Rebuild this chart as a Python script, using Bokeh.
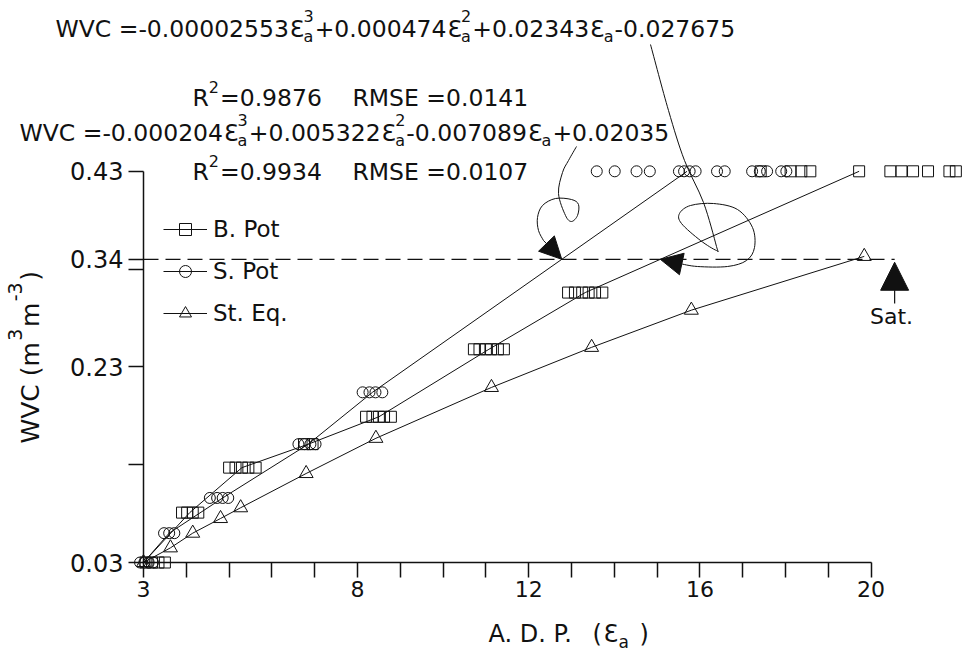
import math
import numpy as np
from bokeh.plotting import figure
from bokeh.models import Range1d, FixedTicker, Label, Legend, LegendItem, Arrow, NormalHead
from bokeh.embed import file_html
from bokeh.resources import INLINE

# ---------------- data ----------------
X_TICKS = [3, 4, 5, 6, 7, 8, 9, 10, 11, 12, 13, 14, 15, 16, 17, 18, 19, 20]
X_TICK_LABELS = ["3", "", "", "", "", "8", "", "", "", "12", "", "", "", "16", "", "", "", "20"]
Y_TICKS = [0.03, 0.13, 0.23, 0.33, 0.34, 0.43]
Y_TICK_LABELS = ["0.03", "", "0.23", "", "0.34", "0.43"]

# B. Pot readings (squares)
BPOT_X = [3.05, 3.2, 3.35, 3.5,
          3.9, 4.02, 4.15, 4.28,
          5.0, 5.15, 5.3, 5.45, 5.62,
          6.75, 6.95,
          8.2, 8.35, 8.5, 8.62, 8.78,
          10.72, 10.85, 11.0, 11.12, 11.28, 11.42,
          12.92, 13.08, 13.25, 13.4, 13.55, 13.72,
          17.42, 18.12, 18.37, 18.58, 19.72, 20.45, 20.71, 20.98, 21.33, 21.83, 21.98]
BPOT_Y = [0.03, 0.03, 0.03, 0.03,
          0.081, 0.081, 0.081, 0.081,
          0.127, 0.127, 0.127, 0.127, 0.127,
          0.151, 0.151,
          0.179, 0.179, 0.179, 0.179, 0.179,
          0.248, 0.248, 0.248, 0.248, 0.248, 0.248,
          0.306, 0.306, 0.306, 0.306, 0.306, 0.306,
          0.43, 0.43, 0.43, 0.43, 0.43, 0.43, 0.43, 0.43, 0.43, 0.43, 0.43]
BPOT_LINE_X = [3.0, 4.08, 5.3, 6.85, 8.5, 11.07, 13.32, 19.72]
BPOT_LINE_Y = [0.03, 0.081, 0.127, 0.151, 0.179, 0.248, 0.306, 0.43]

# S. Pot readings (circles)
SPOT_X = [2.92, 3.02, 3.12, 3.22,
          3.48, 3.6, 3.72,
          4.55, 4.72, 4.85, 4.98,
          6.62, 6.76, 6.9, 7.02,
          8.12, 8.28, 8.42, 8.58,
          13.59, 14.01, 14.52, 14.83, 15.51, 15.63, 15.76, 15.9, 16.4, 16.58,
          17.22, 17.4, 17.57, 17.9, 18.02]
SPOT_Y = [0.03, 0.03, 0.03, 0.03,
          0.06, 0.06, 0.06,
          0.096, 0.096, 0.096, 0.096,
          0.151, 0.151, 0.151, 0.151,
          0.204, 0.204, 0.204, 0.204,
          0.43, 0.43, 0.43, 0.43, 0.43, 0.43, 0.43, 0.43, 0.43, 0.43,
          0.43, 0.43, 0.43, 0.43, 0.43]
SPOT_LINE_X = [3.0, 3.6, 4.85, 6.85, 8.35, 15.7]
SPOT_LINE_Y = [0.03, 0.06, 0.096, 0.151, 0.204, 0.43]

# St. Eq. (triangles)
STEQ_X = [3.0, 3.63, 4.15, 4.8, 5.27, 6.8, 8.43, 11.13, 13.47, 15.8, 19.84]
STEQ_Y = [0.03, 0.045, 0.060, 0.075, 0.086, 0.121, 0.157, 0.209, 0.250, 0.288, 0.343]

SAT_WVC = 0.34
SAT_ADP = 20.55

EQ1_COEFS = ["-0.00002553", "+0.000474", "+0.02343", "-0.027675"]
EQ1_R2, EQ1_RMSE = "0.9876", "0.0141"
EQ2_COEFS = ["-0.000204", "+0.005322", "-0.007089", "+0.02035"]
EQ2_R2, EQ2_RMSE = "0.9934", "0.0107"

# ---------------- layout ----------------
W, H = 962, 652
AX_X_PX, AX_Y_PX = 143, 562          # where x=3 and y=0.03 sit on the canvas
PX_PER_X, PX_PER_Y = 42.8, 978.0
X_ORIGIN, Y_ORIGIN = X_TICKS[0], Y_TICKS[0]

INK = "#111111"
FONT = "DejaVu Sans"
MAIN = 23.5
SMALL = 16
BASE_FIX = 9  # labels render a little below their alphabetic anchor


def px2x(px):
    return X_ORIGIN + (px - AX_X_PX) / PX_PER_X


def py2y(py):
    return Y_ORIGIN + (AX_Y_PX - py) / PX_PER_Y


ADV = {str(d): 0.636 for d in range(10)}
ADV.update({".": 0.318, " ": 0.318, "+": 0.838, "=": 0.838, "-": 0.361, "W": 0.989,
            "V": 0.684, "C": 0.698, "R": 0.695, "M": 0.863, "S": 0.635, "E": 0.632,
            "Ɛ": 0.58, "a": 0.613, "A": 0.684, "D": 0.77, "P": 0.603, "(": 0.39, ")": 0.39,
            "m": 0.974})


def tw(s, size):
    return sum(ADV.get(c, 0.62) for c in s) * size


# the frame covers the whole canvas; the axes are pinned at x=3 / y=0.03
p = figure(width=W, height=H, x_range=Range1d(px2x(0), px2x(W)), y_range=Range1d(py2y(H), py2y(0)),
           output_backend="svg", toolbar_location=None,
           min_border_left=0, min_border_right=0, min_border_top=0, min_border_bottom=0)
p.outline_line_color = None
p.xgrid.visible = False
p.ygrid.visible = False
p.background_fill_color = "white"

for ax in (p.xaxis[0], p.yaxis[0]):
    ax.axis_line_color = INK
    ax.axis_line_width = 1.5
    ax.major_tick_line_color = INK
    ax.major_tick_line_width = 1.5
    ax.major_tick_out = 15
    ax.major_tick_in = 0
    ax.minor_tick_out = 0
    ax.minor_tick_in = 0
    ax.major_label_text_font = FONT
    ax.major_label_text_color = INK

p.xaxis.fixed_location = Y_ORIGIN
p.xaxis.ticker = FixedTicker(ticks=X_TICKS)
p.xaxis.major_label_overrides = dict(zip(X_TICKS, X_TICK_LABELS))
p.xaxis.bounds = (X_TICKS[0], X_TICKS[-1])
p.xaxis.major_label_text_font_size = "22px"
p.xaxis.major_label_standoff = 3

p.yaxis.fixed_location = X_ORIGIN
p.yaxis.ticker = FixedTicker(ticks=Y_TICKS)
p.yaxis.major_label_overrides = dict(zip(Y_TICKS, Y_TICK_LABELS))
p.yaxis.bounds = (Y_TICKS[0], Y_TICKS[-1])
p.yaxis.major_label_text_font_size = "24px"
p.yaxis.major_label_standoff = 5

# ---------------- series ----------------
b_line = p.line(BPOT_LINE_X, BPOT_LINE_Y, line_color=INK, line_width=1)
b_pts = p.scatter(BPOT_X, BPOT_Y, marker="square", size=11, fill_alpha=0, line_color=INK, line_width=1)
s_line = p.line(SPOT_LINE_X, SPOT_LINE_Y, line_color=INK, line_width=1)
s_pts = p.scatter(SPOT_X, SPOT_Y, marker="circle", size=11, fill_alpha=0, line_color=INK, line_width=1)
t_line = p.line(STEQ_X, STEQ_Y, line_color=INK, line_width=1)
t_pts = p.scatter(STEQ_X, STEQ_Y, marker="triangle", size=14, fill_alpha=0, line_color=INK, line_width=1)

# saturation level
p.line([X_ORIGIN, SAT_ADP], [SAT_WVC, SAT_WVC], line_color=INK, line_width=1.2, line_dash="15 7")

legend = Legend(items=[LegendItem(label="B. Pot", renderers=[b_line, b_pts]),
                       LegendItem(label="S. Pot", renderers=[s_line, s_pts]),
                       LegendItem(label="St. Eq.", renderers=[t_line, t_pts])],
                location=(163, H - 328), orientation="vertical", padding=0, spacing=12, margin=0,
                glyph_width=44, glyph_height=30, label_height=30, label_standoff=6,
                label_text_font=FONT, label_text_font_size="23px", label_text_color=INK,
                border_line_color=None, background_fill_alpha=0)
p.add_layout(legend)


# ---------------- text annotations (screen units; frame == canvas) ----------------
def put(text, px, py, size, align="left"):
    p.add_layout(Label(x=px, y=H - (py - BASE_FIX), x_units="screen", y_units="screen", text=text,
                       text_font=FONT, text_font_size=f"{size}px", text_align=align,
                       text_baseline="alphabetic", text_color=INK))


def put_up(text, base_x, py, size):
    """Text reading bottom-to-top, starting at canvas row py, baseline at column base_x."""
    p.add_layout(Label(x=base_x - BASE_FIX, y=H - py, x_units="screen", y_units="screen", text=text,
                       text_font=FONT, text_font_size=f"{size}px", text_align="left",
                       text_baseline="alphabetic", text_color=INK, angle=math.pi / 2))


SUP_RISE, SUB_DROP = 13, 8


def equation(coefs, x, base, gap):
    powers = ["3", "2", ""]
    text = "WVC =" + coefs[0]
    for i in range(3):
        put(text, x, base, MAIN)
        x += tw(text, MAIN) + gap
        put("Ɛ", x, base, MAIN)
        x += tw("Ɛ", MAIN)
        if powers[i]:
            put(powers[i], x, base - SUP_RISE, SMALL)
        put("a", x, base + SUB_DROP, SMALL)
        x += max(tw(powers[i], SMALL), tw("a", SMALL)) + 1
        text = coefs[i + 1]
    put(text, x, base, MAIN)


def stats(r2, rmse, x, base, rmse_x):
    put("R", x, base, MAIN)
    x += tw("R", MAIN)
    put("2", x, base - 11, SMALL)
    x += tw("2", SMALL) + 1
    put("=" + r2, x, base, MAIN)
    put("RMSE =" + rmse, rmse_x, base, MAIN)


equation(EQ1_COEFS, 55, 37, 1)
stats(EQ1_R2, EQ1_RMSE, 192, 106, 352)
equation(EQ2_COEFS, 19, 141, 1)
stats(EQ2_R2, EQ2_RMSE, 192, 180, 352)

# y-axis title: WVC (m^3 m^-3), built from pieces so the exponents sit raised
T_SIZE, T_SUP, T_RISE = 25, 19, 16
yb, yy = 39, 443
for txt, size, rise in (("WVC (m", T_SIZE, 0), ("3", T_SUP, T_RISE), ("m", T_SIZE, 0),
                        ("-3", T_SUP, T_RISE), (")", T_SIZE, 0)):
    put_up(txt, yb - rise, yy, size)
    yy -= tw(txt, size) + 1.5

# x-axis title: A. D. P. ( Ɛa )
put("A. D. P.", 488, 642, 24)
put("(", 592, 642, 24)
put("Ɛ", 603, 642, 24)
put("a", 618, 650, 17)
put(")", 639, 642, 24)

# saturation marker
p.add_layout(Arrow(end=NormalHead(size=28, fill_color=INK, line_color=INK, line_width=1),
                   x_start=SAT_ADP, y_start=py2y(303), x_end=SAT_ADP, y_end=SAT_WVC - 0.003,
                   line_color=INK, line_width=1.2))
put("Sat.", 891, 325, 22, align="center")


# ---------------- hand-drawn call-out curves ----------------
def bezier_path(pts):
    pts = [np.array(q, dtype=float) for q in pts]
    segs = {k: [] for k in ("x0", "y0", "x1", "y1", "cx0", "cy0", "cx1", "cy1")}
    n = len(pts)
    for i in range(n - 1):
        p0 = pts[i - 1] if i > 0 else pts[i]
        p1, p2 = pts[i], pts[i + 1]
        p3 = pts[i + 2] if i + 2 < n else pts[i + 1]
        c1 = p1 + (p2 - p0) / 6.0
        c2 = p2 - (p3 - p1) / 6.0
        segs["x0"].append(px2x(p1[0])); segs["y0"].append(py2y(p1[1]))
        segs["x1"].append(px2x(p2[0])); segs["y1"].append(py2y(p2[1]))
        segs["cx0"].append(px2x(c1[0])); segs["cy0"].append(py2y(c1[1]))
        segs["cx1"].append(px2x(c2[0])); segs["cy1"].append(py2y(c2[1]))
    p.bezier(line_color=INK, line_width=1, **segs)


# call-out of the first equation -> B. Pot curve
CALL_A = [(650, 44), (668, 110), (684, 160), (703, 202), (716, 246), (716, 250), (700, 240),
          (681, 223), (679, 213), (690, 205), (713, 203), (737, 209), (752, 227), (754, 247),
          (746, 260), (727, 266), (697, 266), (679, 263)]
bezier_path(CALL_A)
b_cross = float(np.interp(SAT_WVC, BPOT_LINE_Y, BPOT_LINE_X))
p.add_layout(Arrow(end=NormalHead(size=22, fill_color=INK, line_color=INK, line_width=1),
                   x_start=px2x(679), y_start=py2y(263), x_end=b_cross, y_end=SAT_WVC,
                   line_color=INK, line_width=1))

# call-out of the second equation -> S. Pot curve
CALL_B = [(576, 146), (568, 160), (562, 172), (558, 193), (565, 215), (571, 221), (577, 215),
          (578, 204), (571, 199), (555, 198), (542, 205), (537, 217), (538, 230), (543, 240)]
bezier_path(CALL_B)
s_cross = float(np.interp(SAT_WVC, SPOT_LINE_Y, SPOT_LINE_X))
p.add_layout(Arrow(end=NormalHead(size=22, fill_color=INK, line_color=INK, line_width=1),
                   x_start=px2x(543), y_start=py2y(240), x_end=s_cross, y_end=SAT_WVC,
                   line_color=INK, line_width=1))

open("out.html", "w").write(file_html(p, INLINE))
